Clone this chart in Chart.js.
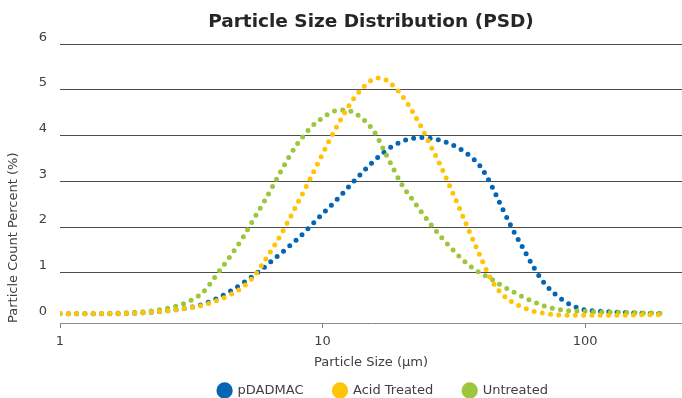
<!DOCTYPE html>
<html>
<head>
<meta charset="utf-8">
<script src="https://cdn.jsdelivr.net/npm/chart.js@4.4.0/dist/chart.umd.min.js"></script>
<style>
html,body{margin:0;padding:0;background:#ffffff;}
#wrap{width:682px;height:398px;}
</style>
</head>
<body>
<div id="wrap"><canvas id="c" width="682" height="398"></canvas></div>
<script>
// Particle size (µm)
const sizes = [1, 1.5, 2, 2.5, 3, 3.5, 4, 4.5, 5, 5.5, 6, 6.5, 7, 7.5, 8, 9, 10, 11, 12, 13, 14, 15, 16, 17, 18, 20, 22, 24, 26, 28, 30, 33, 36, 40, 44, 48, 53, 58, 64, 70, 77, 85, 95, 105, 120, 140, 170, 203];
// Particle count percent (%)
const pDADMAC = [0.10, 0.10, 0.12, 0.16, 0.22, 0.31, 0.45, 0.61, 0.78, 0.95, 1.12, 1.29, 1.44, 1.59, 1.73, 2.02, 2.29, 2.52, 2.75, 2.97, 3.16, 3.34, 3.49, 3.62, 3.73, 3.87, 3.94, 3.96, 3.94, 3.90, 3.84, 3.73, 3.58, 3.32, 2.91, 2.45, 1.95, 1.54, 1.10, 0.77, 0.53, 0.35, 0.22, 0.17, 0.15, 0.13, 0.11, 0.10];
const acidTreated = [0.10, 0.10, 0.12, 0.16, 0.22, 0.29, 0.40, 0.53, 0.70, 0.93, 1.25, 1.56, 1.87, 2.19, 2.50, 3.07, 3.60, 4.06, 4.45, 4.77, 5.00, 5.17, 5.26, 5.25, 5.16, 4.89, 4.53, 4.14, 3.74, 3.37, 2.99, 2.45, 1.94, 1.34, 0.84, 0.55, 0.35, 0.24, 0.15, 0.11, 0.08, 0.07, 0.07, 0.07, 0.07, 0.07, 0.08, 0.08];
const untreated = [0.10, 0.11, 0.14, 0.21, 0.34, 0.57, 1.00, 1.40, 1.79, 2.20, 2.56, 2.92, 3.26, 3.56, 3.81, 4.17, 4.39, 4.53, 4.56, 4.52, 4.40, 4.24, 4.02, 3.72, 3.44, 2.94, 2.60, 2.30, 2.04, 1.81, 1.62, 1.37, 1.17, 0.99, 0.86, 0.72, 0.59, 0.47, 0.36, 0.27, 0.21, 0.17, 0.16, 0.15, 0.14, 0.13, 0.12, 0.11];

const seriesNames = ['pDADMAC', 'Acid Treated', 'Untreated'];
const seriesColors = ['#0565B5', '#FFC405', '#9CC63D'];
const xTickValues = [1, 10, 100];
const yTickValues = [0, 1, 2, 3, 4, 5, 6];

const FONT = 'DejaVu Sans, Verdana, sans-serif';

function toPoints(ys) { return sizes.map((x, i) => ({ x: x, y: ys[i] })); }

function makeDataset(label, ys, color, order) {
  return {
    label: label,
    data: toPoints(ys),
    borderColor: color,
    backgroundColor: color,
    borderWidth: 5,
    borderDash: [0, 8.3],
    borderCapStyle: 'round',
    cubicInterpolationMode: 'monotone',
    pointRadius: 0,
    pointHoverRadius: 0,
    pointStyle: 'circle',
    fill: false,
    order: order
  };
}

// moves the legend row into place without taking room from the plot
const legendNudge = {
  id: 'legendNudge',
  afterLayout(chart) {
    const l = chart.legend;
    if (!l) return;
    const dx = 12, dy = -17;
    l.left += dx; l.right += dx; l.top += dy;
  }
};

new Chart(document.getElementById('c'), {
  type: 'line',
  data: {
    datasets: [
      makeDataset(seriesNames[0], pDADMAC, seriesColors[0], 3),
      makeDataset(seriesNames[1], acidTreated, seriesColors[1], 1),
      makeDataset(seriesNames[2], untreated, seriesColors[2], 2)
    ]
  },
  plugins: [legendNudge],
  options: {
    responsive: false,
    animation: false,
    events: [],
    layout: { padding: 0 },
    plugins: {
      title: {
        display: true,
        text: 'Particle Size Distribution (PSD)',
        fullSize: false,
        color: '#262626',
        font: { family: FONT, size: 18.5, weight: 'bold' },
        padding: { top: 11, bottom: 11 }
      },
      legend: {
        position: 'bottom',
        fullSize: false,
        maxHeight: 27,
        labels: {
          usePointStyle: true,
          boxWidth: 15,
          boxHeight: 8,
          padding: 30,
          color: '#404040',
          font: { family: FONT, size: 13 },
          sort: (a, b) => a.datasetIndex - b.datasetIndex
        }
      },
      tooltip: { enabled: false }
    },
    scales: {
      x: {
        type: 'logarithmic',
        min: 1,
        max: 234,
        afterBuildTicks: (scale) => { scale.ticks = xTickValues.map(v => ({ value: v })); },
        afterFit: (scale) => { scale.height = 48; },
        ticks: {
          color: '#404040',
          font: { family: FONT, size: 13 },
          padding: 6,
          maxRotation: 0,
          autoSkip: false,
          callback: (v) => String(v)
        },
        grid: {
          display: true,
          drawOnChartArea: false,
          drawTicks: true,
          tickLength: 5,
          color: '#808080'
        },
        border: { display: true, color: '#8c8c8c', width: 1 },
        title: {
          display: true,
          text: 'Particle Size (µm)',
          color: '#404040',
          font: { family: FONT, size: 13 },
          padding: { top: 4, bottom: 1 }
        }
      },
      y: {
        type: 'linear',
        min: -0.1,
        max: 6,
        afterBuildTicks: (scale) => { scale.ticks = yTickValues.map(v => ({ value: v })); },
        afterFit: (scale) => { scale.width = 60; },
        ticks: {
          color: '#404040',
          font: { family: FONT, size: 13 },
          padding: 13,
          labelOffset: -7
        },
        grid: {
          drawTicks: false,
          color: (ctx) => (ctx.tick && ctx.tick.value === 0) ? 'rgba(0,0,0,0)' : '#4d4d4d',
          lineWidth: 1
        },
        border: { display: false },
        title: {
          display: true,
          text: 'Particle Count Percent (%)',
          align: 'start',
          color: '#404040',
          font: { family: FONT, size: 13 },
          padding: { top: 6, bottom: 4 }
        }
      }
    }
  }
});
</script>
</body>
</html>
